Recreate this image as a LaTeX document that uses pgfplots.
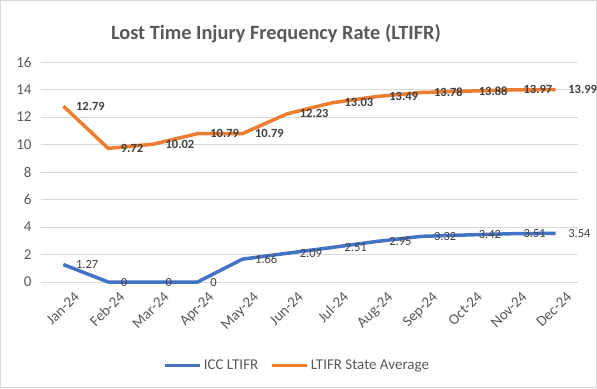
\documentclass[border=0pt]{standalone}
\usepackage{pgfplots}
\pgfplotsset{compat=1.18}
\usepackage{fontspec}
\setmainfont{Carlito}
\definecolor{tickgray}{HTML}{595959}
\definecolor{lblgray}{HTML}{404040}
\definecolor{gridgray}{HTML}{D9D9D9}
\definecolor{xlblue}{HTML}{4472C4}
\definecolor{xlorange}{HTML}{ED7D31}
\begin{document}
\begin{tikzpicture}[x=1bp,y=1bp]
\draw[gridgray, line width=1bp] (0.5,0.5) rectangle (596.5,387.5);
\useasboundingbox (0,0) rectangle (597,388);
\node[anchor=base, font=\fontsize{20.3bp}{24bp}\selectfont\bfseries, text=tickgray, inner sep=0pt] at (276,348.5) {Lost Time Injury Frequency Rate (LTIFR)};
\begin{axis}[
  at={(41bp,106bp)}, anchor=south west,
  scale only axis, width=537bp, height=220bp,
  xmin=-0.5, xmax=11.5, ymin=0, ymax=16,
  xtick={0,...,11},
  xticklabels={Jan-24,Feb-24,Mar-24,Apr-24,May-24,Jun-24,Jul-24,Aug-24,Sep-24,Oct-24,Nov-24,Dec-24},
  ytick={0,2,...,16},
  ymajorgrids, major grid style={gridgray, line width=1bp},
  axis line style={draw=none}, tick style={draw=none},
  /pgf/number format/assume math mode=true,
  tick label style={font=\fontsize{15bp}{18bp}\selectfont, text=tickgray},
  xticklabel style={rotate=45, anchor=north east, inner sep=1bp, yshift=-12bp, xshift=2bp},
  yticklabel style={xshift=-6bp},
  clip=false,
  nodes near coords,
  nodes near coords style={anchor=west, inner sep=0pt, xshift=11bp, font=\fontsize{12.5bp}{14bp}\selectfont, text=lblgray},
  legend style={at={(0.477,-0.38)}, anchor=center, draw=none, fill=none, legend columns=2,
    font=\fontsize{15bp}{18bp}\selectfont, text=tickgray, inner sep=0pt,
    /tikz/every even column/.append style={column sep=10bp}},
  legend image code/.code={\draw[#1] (0bp,0bp) -- (35bp,0bp);},
]
\addplot[xlblue, line width=3.5bp, line join=round] coordinates {
(0,1.27) (1,0) (2,0) (3,0) (4,1.66) (5,2.09) (6,2.51) (7,2.95) (8,3.32) (9,3.42) (10,3.51) (11,3.54)};
\addlegendentry{ICC LTIFR}
\addplot[xlorange, line width=3.5bp, line join=round, nodes near coords style={font=\fontsize{12.5bp}{14bp}\selectfont\bfseries}] coordinates {
(0,12.79) (1,9.72) (2,10.02) (3,10.79) (4,10.79) (5,12.23) (6,13.03) (7,13.49) (8,13.78) (9,13.88) (10,13.97) (11,13.99)};
\addlegendentry{LTIFR State Average}
\end{axis}
\end{tikzpicture}
\end{document}
